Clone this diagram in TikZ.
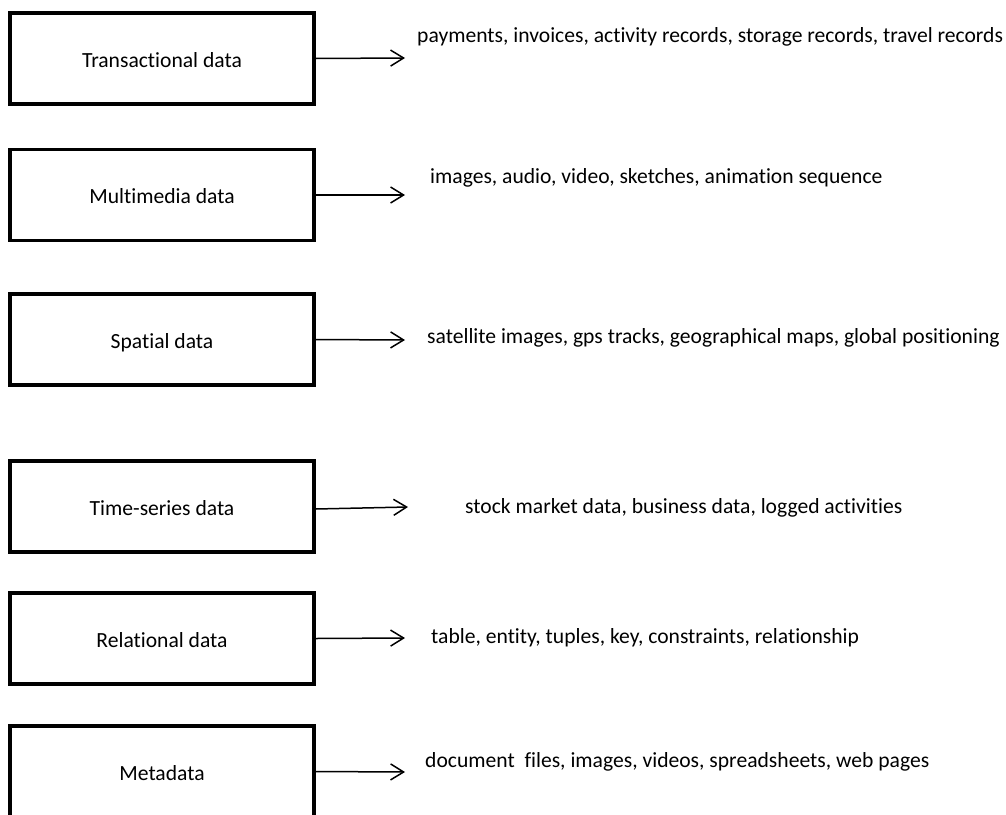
\documentclass[tikz,border=0pt]{standalone}
\usepackage{fontspec}
\setmainfont{Carlito}[Ligatures=NoCommon]
\usetikzlibrary{arrows.meta}

\begin{document}
\begin{tikzpicture}[x=1pt,y=-1pt,
  box/.style={draw,line width=3.5pt,minimum width=304pt,minimum height=91pt,
    inner sep=0pt,text height=19pt,text depth=2pt,font=\fontsize{21.6}{25}\selectfont},
  item/.style={anchor=base west,inner sep=0pt,font=\fontsize{21.6}{25}\selectfont},
  arr/.style={-{Straight Barb[length=13pt,width=16pt,line width=1.5pt]},line width=1.5pt}]

  \useasboundingbox (0,0) rectangle (1006,814);

  % the kinds of data
  \node[box] (trans) at (162,58.5) {Transactional data};
  \node[box] (multi) at (162,195) {Multimedia data};
  \node[box] (spat) at (162,339.5) {Spatial data};
  \node[box] (time) at (162,506.5) {Time-series data};
  \node[box] (rel) at (162,638.5) {Relational data};
  \node[box] (meta) at (162,771.5) {Metadata};

  % examples
  \node[item] (ltrans) at (417,42) {payments, invoices, activity records, storage records, travel records};
  \node[item] (lmulti) at (430,183) {images, audio, video, sketches, animation sequence};
  \node[item] (lspat) at (427,343) {satellite images, gps tracks, geographical maps, global positioning};
  \node[item] (ltime) at (465,513) {stock market data, business data, logged activities};
  \node[item] (lrel) at (431,643) {table, entity, tuples, key, constraints, relationship};
  \node[item] (lmeta) at (425,767) {document\ \ files, images, videos, spreadsheets, web pages};

  \coordinate (e1) at (405,58);
  \coordinate (e2) at (405,195);
  \coordinate (e3) at (405,340);
  \coordinate (e4) at (408,507);
  \coordinate (e5) at (405,638);
  \coordinate (e6) at (405,772);

  \draw[arr] (trans.east) -- (e1);
  \draw[arr] (multi.east) -- (e2);
  \draw[arr] (spat.east) -- (e3);
  \draw[arr] ([yshift=-2.5pt]time.east) -- (e4);
  \draw[arr] (rel.east) -- (e5);
  \draw[arr] (meta.east) -- (e6);
\end{tikzpicture}
\end{document}
